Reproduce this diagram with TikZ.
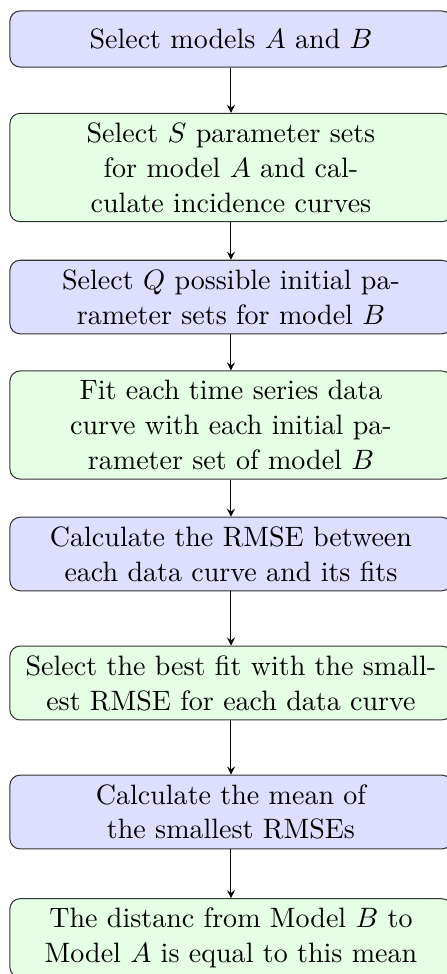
\documentclass[tikz,border=0pt,11pt]{standalone}
\usetikzlibrary{arrows}

\begin{document}
\begin{tikzpicture}[
    every node/.style={align=center},
    block/.style={rectangle, draw=black!80, rounded corners=4pt, fill=blue!13,
                  text width=5.8cm, minimum width=6.07cm, minimum height=0.77cm},
    gblock/.style={rectangle, draw=black!80, rounded corners=4pt, fill=green!10,
                  text width=5.8cm, minimum width=6.07cm, minimum height=0.77cm},
    arr/.style={-stealth},
]
    \useasboundingbox (0,0) rectangle (6.123,-13.372);
    \node[block] (models) at (3.171, -0.535) {Select models $A$ and $B$};
    \node[gblock] (paramsA) at (3.171, -2.300) {Select $S$ parameter sets for model~$A$ and calculate incidence curves};
    \node[block] (initB) at (3.171, -4.078) {Select $Q$ possible initial parameter sets for model~$B$};
    \node[gblock] (fit) at (3.171, -5.835) {Fit each time series data curve with each initial parameter set of model~$B$};
    \node[block] (rmse) at (3.171, -7.606) {Calculate the RMSE between each data curve and its fits};
    \node[gblock] (best) at (3.171, -9.377) {Select the best fit with the smallest RMSE for each data curve};
    \node[block] (mean) at (3.171, -11.148) {Calculate the mean of the smallest RMSEs};
    \node[gblock] (dist) at (3.171, -12.878) {The distanc from Model~$B$ to Model~$A$ is equal to this mean};
    \draw[arr] (models.south) -- (paramsA.north);
    \draw[arr] (paramsA.south) -- (initB.north);
    \draw[arr] (initB.south) -- (fit.north);
    \draw[arr] (fit.south) -- (rmse.north);
    \draw[arr] (rmse.south) -- (best.north);
    \draw[arr] (best.south) -- (mean.north);
    \draw[arr] (mean.south) -- (dist.north);
\end{tikzpicture}
\end{document}
